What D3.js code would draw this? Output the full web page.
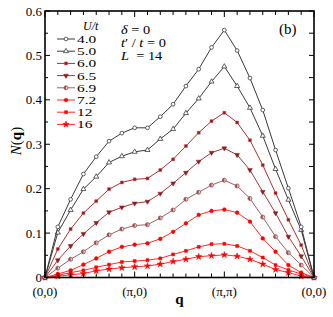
<!DOCTYPE html>
<html>
<head>
<meta charset="utf-8">
<title>N(q)</title>
<style>
  body { margin: 0; background: #fff; }
  svg text { font-family: "Liberation Serif", Tinos, "Times New Roman", Times, serif; }
</style>
</head>
<body>
<main></main>
<script src="https://cdn.jsdelivr.net/npm/d3@7"></script>
<script>
    // path through the Brillouin zone, L = 14 -> 21 steps
    var qLabels = ["(0,0)", "(π,0)", "(π,π)", "(0,0)"];
    var qLabelPos = [0, 7, 14, 21];
    var yTicks = [0, 0.1, 0.2, 0.3, 0.4, 0.5, 0.6];
    var yTickLabels = ["0", "0.1", "0.2", "0.3", "0.4", "0.5", "0.6"];
    var uLabels = ["4.0", "5.0", "6.0", "6.5", "6.9", "7.2", "12", "16"];

    var u40 = [0, 0.114, 0.176, 0.233, 0.272, 0.307, 0.325, 0.337, 0.337, 0.362, 0.390, 0.431, 0.469, 0.518, 0.557, 0.511, 0.449, 0.377, 0.287, 0.201, 0.114, 0];
    var u50 = [0, 0.101, 0.152, 0.199, 0.227, 0.259, 0.273, 0.283, 0.287, 0.312, 0.334, 0.370, 0.403, 0.441, 0.475, 0.431, 0.382, 0.319, 0.244, 0.175, 0.107, 0];
    var u60 = [0, 0.064, 0.109, 0.145, 0.172, 0.199, 0.214, 0.221, 0.223, 0.242, 0.266, 0.296, 0.326, 0.352, 0.371, 0.349, 0.309, 0.253, 0.190, 0.130, 0.073, 0];
    var u65 = [0, 0.039, 0.071, 0.098, 0.123, 0.147, 0.158, 0.167, 0.171, 0.189, 0.212, 0.236, 0.261, 0.281, 0.291, 0.276, 0.242, 0.193, 0.145, 0.092, 0.048, 0];
    var u69 = [0, 0.021, 0.041, 0.058, 0.078, 0.096, 0.109, 0.117, 0.119, 0.134, 0.152, 0.176, 0.192, 0.208, 0.219, 0.206, 0.178, 0.136, 0.092, 0.056, 0.028, 0];
    var u72 = [0, 0.008, 0.016, 0.029, 0.043, 0.058, 0.069, 0.074, 0.077, 0.087, 0.103, 0.122, 0.141, 0.150, 0.153, 0.146, 0.126, 0.088, 0.058, 0.028, 0.011, 0];
    var u12 = [0, 0.005, 0.011, 0.016, 0.023, 0.029, 0.035, 0.037, 0.039, 0.043, 0.052, 0.060, 0.069, 0.075, 0.076, 0.071, 0.060, 0.045, 0.028, 0.017, 0.008, 0];
    var u16 = [0, 0.003, 0.006, 0.009, 0.015, 0.019, 0.022, 0.024, 0.026, 0.030, 0.036, 0.041, 0.047, 0.049, 0.051, 0.048, 0.041, 0.030, 0.018, 0.011, 0.003, 0];

    var series = [
        {u: uLabels[0], v: u40, line: "#3a3a3a", sym: d3.symbolCircle, fill: "#fff", stroke: "#3a3a3a"},
        {u: uLabels[1], v: u50, line: "#3a3a3a", sym: d3.symbolTriangle, fill: "#fff", stroke: "#3a3a3a"},
        {u: uLabels[2], v: u60, line: "#a83232", sym: d3.symbolSquare, fill: "#9a1414", stroke: "#c06060"},
        {u: uLabels[3], v: u65, line: "#9c3a3a", sym: "tridown", fill: "#8c1e1e", stroke: "#8c1e1e"},
        {u: uLabels[4], v: u69, line: "#a06262", sym: "half", fill: "#9a5050", stroke: "#9a5050"},
        {u: uLabels[5], v: u72, line: "#ff2a2a", sym: d3.symbolCircle, fill: "#ff0000", stroke: "#ff0000"},
        {u: uLabels[6], v: u12, line: "#ff2a2a", sym: d3.symbolSquare, fill: "#ff0000", stroke: "#ff0000"},
        {u: uLabels[7], v: u16, line: "#ff2a2a", sym: d3.symbolStar, fill: "#ff0000", stroke: "#ff0000"}
    ];

    var width = 333, height = 317;
    var pLeft = 45, pRight = 314, pTop = 11, pBottom = 277.5;

    var svg = d3.select("main").append("svg")
        .attr("width", width).attr("height", height);

    var x = d3.scaleLinear().domain([0, 21]).range([pLeft, pRight]);
    var y = d3.scaleLinear().domain([0, 0.6]).range([pBottom, pTop]);

    // markers (small, like the original)
    function drawMarker(g, s, cx, cy) {
        if (s.sym === "tridown") {
            g.append("path")
                .attr("d", d3.symbol().type(d3.symbolTriangle).size(10)())
                .attr("transform", "translate(" + cx + "," + cy + ") rotate(180)")
                .attr("fill", s.fill).attr("stroke", s.stroke).attr("stroke-width", 0.5);
        } else if (s.sym === "half") {
            g.append("circle").attr("cx", cx).attr("cy", cy).attr("r", 2)
                .attr("fill", "#e8c8c8").attr("stroke", s.stroke).attr("stroke-width", 0.8);
            g.append("path")
                .attr("d", d3.arc()({innerRadius: 0, outerRadius: 2, startAngle: Math.PI, endAngle: 2 * Math.PI}))
                .attr("transform", "translate(" + cx + "," + cy + ")")
                .attr("fill", s.fill);
        } else {
            var size = s.sym === d3.symbolStar ? 13 : (s.sym === d3.symbolSquare ? 9 : 11);
            g.append("path")
                .attr("d", d3.symbol().type(s.sym).size(size)())
                .attr("transform", "translate(" + cx + "," + cy + ")")
                .attr("fill", s.fill).attr("stroke", s.stroke)
                .attr("stroke-width", s.fill === "#fff" ? 0.8 : 0.5);
        }
    }

    var line = d3.line().x(function (d, i) { return x(i); }).y(function (d) { return y(d); });

    series.slice().reverse().forEach(function (s) {
        var g = svg.append("g");
        g.append("path").datum(s.v)
            .attr("d", line)
            .attr("fill", "none").attr("stroke", s.line).attr("stroke-width", 1);
        s.v.forEach(function (d, i) { drawMarker(g, s, x(i), y(d)); });
    });

    // frame and ticks
    var axes = svg.append("g").attr("stroke", "#000");
    axes.append("rect")
        .attr("x", pLeft).attr("y", pTop)
        .attr("width", pRight - pLeft).attr("height", pBottom - pTop)
        .attr("fill", "none").attr("stroke-width", 1.6);

    d3.range(0, 0.601, 0.05).forEach(function (v, k) {
        var len = k % 2 === 0 ? 5 : 3;
        axes.append("line").attr("x1", pLeft).attr("x2", pLeft + len)
            .attr("y1", y(v)).attr("y2", y(v)).attr("stroke-width", 1);
        axes.append("line").attr("x1", pRight).attr("x2", pRight - 5)
            .attr("y1", y(v)).attr("y2", y(v)).attr("stroke-width", 1);
    });
    d3.range(0, 22).forEach(function (i) {
        var len = qLabelPos.indexOf(i) >= 0 ? 6 : 4;
        axes.append("line").attr("x1", x(i)).attr("x2", x(i))
            .attr("y1", pBottom).attr("y2", pBottom - len).attr("stroke-width", 1);
        axes.append("line").attr("x1", x(i)).attr("x2", x(i))
            .attr("y1", pTop).attr("y2", pTop + len).attr("stroke-width", 1);
    });

    // tick labels
    svg.selectAll(".ylab").data(yTicks).enter().append("text")
        .attr("x", pLeft - 3).attr("y", function (d) { return y(d) + 4.5; })
        .attr("text-anchor", "end").attr("font-size", 13)
        .text(function (d, i) { return yTickLabels[i]; });

    svg.selectAll(".xlab").data(qLabelPos).enter().append("text")
        .attr("x", function (d) { return x(d); }).attr("y", pBottom + 18)
        .attr("text-anchor", "middle").attr("font-size", 13)
        .text(function (d, i) { return qLabels[i]; });

    svg.append("text").attr("x", (pLeft + pRight) / 2).attr("y", pBottom + 26)
        .attr("text-anchor", "middle").attr("font-size", 15).attr("font-weight", "bold")
        .text("q");

    var yl = svg.append("text")
        .attr("transform", "translate(21,141) rotate(-90)")
        .attr("text-anchor", "middle").attr("font-size", 15);
    yl.append("tspan").attr("font-style", "italic").text("N");
    yl.append("tspan").text("(");
    yl.append("tspan").attr("font-weight", "bold").text("q");
    yl.append("tspan").text(")");

    // legend
    var lg = svg.append("g");
    lg.append("text").attr("x", 83).attr("y", 30).attr("font-size", 12)
        .attr("font-style", "italic").text("U/t");
    series.forEach(function (s, k) {
        var ly = 39 + k * 12.2;
        lg.append("line").attr("x1", 57).attr("x2", 75).attr("y1", ly).attr("y2", ly)
            .attr("stroke", s.line).attr("stroke-width", 1);
        drawMarker(lg, s, 66, ly);
        lg.append("text")
            .attr("transform", "translate(77," + (ly + 4) + ") scale(1.4,1)")
            .attr("font-size", 11).text(s.u);
    });

    // annotations
    var ann = [
        [{t: "δ", i: true}, {t: " = 0"}],
        [{t: "t", i: true}, {t: "′ / "}, {t: "t", i: true}, {t: " = 0"}],
        [{t: "L", i: true}, {t: "  = 14"}]
    ];
    ann.forEach(function (row, k) {
        var t = svg.append("text")
            .attr("transform", "translate(121," + (34 + k * 13) + ") scale(1.15,1)")
            .attr("font-size", 12.5)
            .style("white-space", "pre");
        row.forEach(function (p) {
            t.append("tspan").attr("font-style", p.i ? "italic" : "normal").text(p.t);
        });
    });

    svg.append("text").attr("x", 279).attr("y", 34).attr("font-size", 15).text("(b)");
</script>
</body>
</html>
